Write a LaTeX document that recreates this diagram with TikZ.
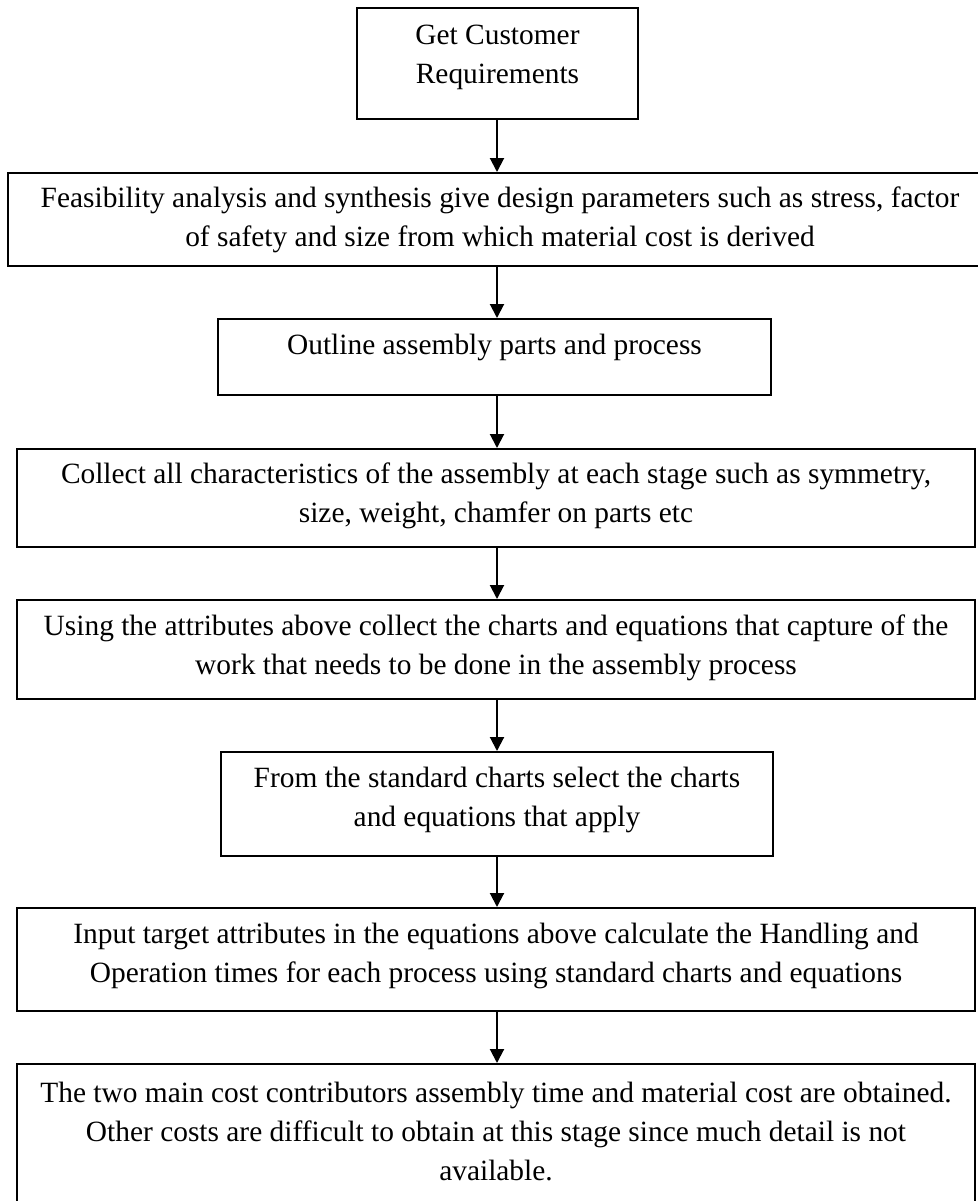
\documentclass[tikz,border=0pt]{standalone}
\usepackage{fontspec}
\setmainfont{Liberation Serif}
\usetikzlibrary{arrows.meta}
\begin{document}
\begin{tikzpicture}[x=0.5pt,y=-0.5pt,
  stepbox/.style={draw, line width=1pt, inner sep=0pt, minimum width=#1},
  txt/.style={align=center, inner sep=0pt, font=\fontsize{14.7}{19.5}\selectfont},
  flow/.style={-{Triangle[length=7pt,width=7pt]}, line width=1pt}]
\useasboundingbox (0,0) rectangle (978,1201);

% boxes of the process chain
\node[stepbox=140.5pt, minimum height=55.5pt] (b1) at (497.5,63.5) {};
\node[stepbox=492pt,   minimum height=46.5pt] (b2) at (500,219.5) {};
\node[stepbox=276.5pt, minimum height=38pt]   (b3) at (494.5,357) {};
\node[stepbox=479pt,   minimum height=49pt]   (b4) at (496,498) {};
\node[stepbox=479pt,   minimum height=49.5pt] (b5) at (496,649.5) {};
\node[stepbox=276pt,   minimum height=52pt]   (b6) at (497,804) {};
\node[stepbox=479pt,   minimum height=51.5pt] (b7) at (496,959.5) {};
\node[stepbox=479pt,   minimum height=88pt]   (b8) at (496,1152) {};

% texts in the boxes
\node[txt] (t1) at (497.5,57) {Get Customer\\Requirements};
\node[txt] (t2) at (500,220) {Feasibility analysis and synthesis give design parameters such as stress, factor\\of safety and size from which material cost is derived};
\node[txt] (t3) at (494.5,347) {Outline assembly parts and process};
\node[txt] (t4) at (496,496) {Collect all characteristics of the assembly at each stage such as symmetry,\\size, weight, chamfer on parts etc};
\node[txt] (t5) at (496,648) {Using the attributes above collect the charts and equations that capture of the\\work that needs to be done in the assembly process};
\node[txt] (t6) at (497,800) {From the standard charts select the charts\\and equations that apply};
\node[txt] (t7) at (496,956) {Input target attributes in the equations above calculate the Handling and\\Operation times for each process using standard charts and equations};
\node[txt] (t8) at (496,1131) {The two main cost contributors assembly time and material cost are obtained.\\Other costs are difficult to obtain at this stage since much detail is not\\available.};

% connectors along the common axis
\coordinate (axis) at (497,0);
\draw[flow] (axis |- b1.south) -- (axis |- b2.north);
\draw[flow] (axis |- b2.south) -- (axis |- b3.north);
\draw[flow] (axis |- b3.south) -- (axis |- b4.north);
\draw[flow] (axis |- b4.south) -- (axis |- b5.north);
\draw[flow] (axis |- b5.south) -- (axis |- b6.north);
\draw[flow] (axis |- b6.south) -- (axis |- b7.north);
\draw[flow] (axis |- b7.south) -- (axis |- b8.north);
\end{tikzpicture}
\end{document}
